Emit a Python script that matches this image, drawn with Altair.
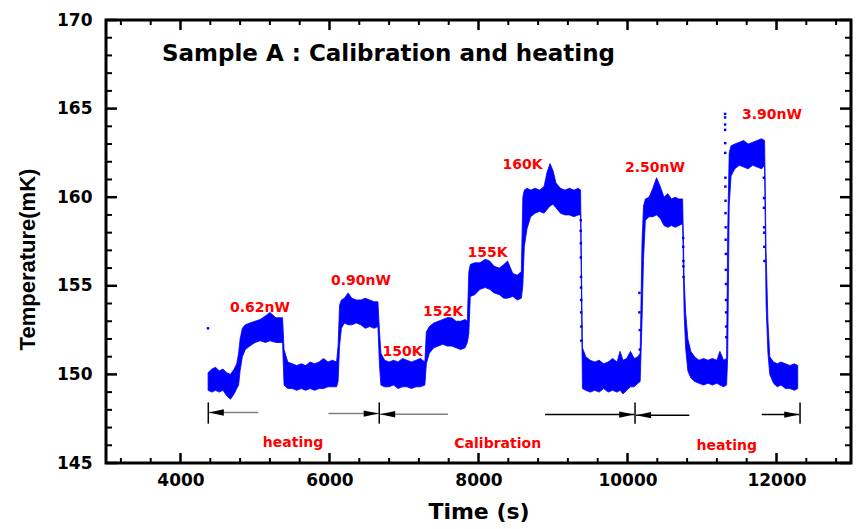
import altair as alt
import pandas as pd

# ---- measured temperature band (time in s, lower / upper edge of the noisy trace in mK)
band_time = [
    4370, 4420, 4470, 4520, 4570, 4620, 4670, 4720, 4755, 4780, 4800, 4830, 4870, 4930,
    5000, 5070, 5140, 5200, 5280, 5370, 5390, 5440, 5500, 5560, 5620, 5680, 5740, 5800,
    5860, 5920, 5980, 6040, 6095, 6115, 6135, 6160, 6200, 6250, 6300, 6360, 6420, 6480,
    6540, 6600, 6650, 6670, 6690, 6740, 6800, 6860, 6920, 6980, 7040, 7100, 7160, 7220,
    7280, 7300, 7340, 7400, 7460, 7520, 7580, 7640, 7700, 7760, 7820, 7850, 7870, 7890,
    7950, 8020, 8090, 8150, 8210, 8280, 8340, 8390, 8460, 8520, 8575, 8595, 8615, 8650,
    8700, 8760, 8820, 8880, 8920, 8960, 9000, 9040, 9100, 9160, 9220, 9280, 9340, 9370,
    9395, 9440, 9500, 9560, 9620, 9680, 9740, 9800, 9860, 9900, 9940, 9990, 10040, 10090,
    10140, 10170, 10195, 10215, 10240, 10290, 10340, 10390, 10440, 10490, 10540, 10590,
    10640, 10690, 10740, 10760, 10780, 10810, 10850, 10900, 10960, 11020, 11080, 11140,
    11200, 11240, 11290, 11330, 11345, 11365, 11390, 11440, 11500, 11560, 11620, 11680,
    11740, 11800, 11840, 11860, 11885, 11910, 11960, 12010, 12060, 12120, 12180, 12240,
    12285,
]
band_low = [
    149.1, 149.0, 149.1, 149.0, 149.1, 148.8, 148.6, 148.9, 149.2, 149.4, 150.2, 151.0, 151.4, 151.6,
    151.8, 151.9, 151.8, 151.9, 151.8, 151.8, 149.4, 149.2, 149.2, 149.1, 149.2, 149.1, 149.2, 149.1,
    149.2, 149.2, 149.3, 149.3, 149.3, 149.6, 151.6, 152.6, 152.9, 152.8, 152.8, 152.9, 152.8, 152.6,
    152.7, 152.6, 152.7, 150.6, 149.4, 149.3, 149.3, 149.4, 149.2, 149.3, 149.3, 149.2, 149.3, 149.3,
    149.4, 150.6, 151.2, 151.5, 151.6, 151.7, 151.6, 151.6, 151.5, 151.4, 151.5, 151.8, 152.3, 154.4,
    154.5, 154.8, 154.9, 154.8, 154.6, 154.5, 154.3, 154.3, 154.4, 154.2, 154.3, 155.0, 157.2, 158.2,
    158.9, 159.1, 159.2, 159.1, 159.3, 159.5, 159.6, 159.4, 159.1, 159.0, 159.0, 158.9, 159.0, 159.0,
    149.2, 149.1, 149.0, 149.1, 149.0, 149.2, 149.0, 149.1, 149.0, 149.1, 148.9, 149.1, 149.3, 149.3,
    149.5, 149.6, 153.0, 156.5, 158.7, 158.9, 158.9, 159.0, 158.8, 158.4, 158.3, 158.4,
    158.3, 158.4, 158.5, 153.5, 151.5, 150.2, 149.8, 149.6, 149.5, 149.4, 149.5, 149.4,
    149.5, 149.4, 149.3, 149.4, 151.0, 159.5, 161.2, 161.6, 161.8, 161.7, 161.6, 161.8,
    161.7, 161.6, 161.8, 154.0, 151.2, 150.0, 149.5, 149.3, 149.4, 149.2, 149.2, 149.1,
    149.2,
]
band_high = [
    150.1, 150.3, 150.4, 150.2, 150.3, 150.1, 150.0, 150.3, 150.6, 151.2, 152.0, 152.6, 152.8, 152.9,
    153.0, 153.1, 153.3, 153.5, 153.2, 153.2, 151.4, 150.7, 150.6, 150.5, 150.6, 150.5, 150.7, 150.6,
    150.7, 150.9, 150.7, 150.8, 150.7, 151.6, 153.9, 154.2, 154.3, 154.6, 154.3, 154.2, 154.2, 154.3,
    154.2, 154.1, 154.1, 152.5, 151.2, 150.8, 150.7, 150.8, 150.7, 150.9, 150.8, 150.7, 150.8, 150.9,
    150.7, 152.4, 152.7, 152.9, 153.0, 153.1, 153.2, 153.2, 153.0, 153.0, 153.1, 153.0, 155.8, 156.2,
    156.3, 156.3, 156.5, 156.4, 156.1, 156.0, 156.2, 156.4, 155.7, 155.6, 155.8, 160.0, 160.4, 160.5,
    160.4, 160.5, 160.4, 160.6, 161.4, 161.9, 161.5, 160.8, 160.5, 160.4, 160.5, 160.4, 160.5, 160.4,
    151.5, 151.0, 150.8, 150.7, 150.8, 150.6, 150.7, 150.9, 150.7, 151.3, 150.8, 150.9, 151.3, 150.9,
    151.0, 151.2, 157.5, 159.5, 159.9, 160.0, 160.5, 161.1, 160.6, 160.0, 160.2, 159.9,
    160.0, 159.9, 159.9, 155.5, 153.5, 152.0, 151.3, 151.0, 150.8, 150.9, 150.8, 150.9,
    150.8, 151.3, 150.8, 150.9, 158.0, 162.5, 162.9, 163.0, 163.1, 163.2, 163.0, 163.1,
    163.2, 163.3, 163.2, 157.0, 153.0, 151.0, 150.7, 150.6, 150.7, 150.6, 150.5, 150.6,
    150.5,
]

# ---- isolated samples recorded during the fast switching steps
dot_time = [
    4369,
    9372, 9372, 9374, 9374, 9376, 9376, 9378, 9378, 9380, 9380,
    10160, 10160, 10165, 10165,
    10748, 10748, 10750, 10750, 10752,
    11310, 11310, 11310, 11310, 11312, 11312, 11314, 11314, 11316, 11316,
    11318, 11318, 11320, 11320, 11322, 11322, 11324, 11324, 11326,
    11830, 11832, 11832, 11834, 11834, 11836, 11838,
]
dot_temp = [
    152.6,
    158.7, 158.1, 157.4, 156.6, 155.5, 154.9, 154.2, 153.5, 152.7, 151.9,
    154.6, 153.5, 152.5, 151.4,
    157.7, 157.2, 156.4, 156.1, 155.5,
    164.7, 164.5, 164.1, 163.8, 163.05, 162.5, 161.1, 160.6, 159.8, 159.1,
    158.3, 157.6, 156.8, 155.9, 155.1, 154.2, 153.5, 152.7, 152.1,
    161.1, 159.95, 159.4, 158.3, 158.0, 157.2, 156.4,
]

# ---- step annotations (red)
step_text = ["0.62nW", "0.90nW", "150K", "152K", "155K", "160K", "2.50nW", "3.90nW",
             "heating", "Calibration", "heating"]
step_time = [5067, 6423, 6980, 7524, 8121, 8591, 10369, 11940, 5510, 8258, 11332]
step_temp = [153.74, 155.28, 151.27, 153.53, 156.84, 161.81, 161.64, 164.64,
             146.15, 146.10, 145.94]

# ---- interval arrows below the trace
arrow_tail = [5044, 5984, 7589, 8893, 10830, 11802]
arrow_tip = [4380, 6660, 6680, 10090, 10115, 12305]
arrow_temp = [147.85, 147.79, 147.75, 147.73, 147.70, 147.73]
arrow_color = ["#808080", "#808080", "#808080", "black", "black", "black"]
bar_time = [4373, 6668, 10101, 12316]
bar_low, bar_high = 147.22, 148.42

# ---- title placed inside the frame
title_text = ["Sample A : Calibration and heating"]
title_time = [6792]
title_temp = [168.08]

# ---- axis ticks
x_major = [4000, 6000, 8000, 10000, 12000]
x_minor = [v for v in range(3200, 13000, 400) if v not in x_major]
y_major = [145, 150, 155, 160, 165, 170]
y_minor = [v for v in range(146, 170) if v not in y_major]

W, H = 745, 443
BLUE = "#0000ff"

xs = alt.Scale(domain=[3000, 13000], nice=False, zero=False)
ys = alt.Scale(domain=[145, 170], nice=False, zero=False)

x_axis = alt.Axis(values=x_major, format="d", ticks=False, domain=False, grid=False,
                  labelFont="DejaVu Sans", labelFontWeight="bold", labelFontSize=17,
                  labelColor="black", labelPadding=9,
                  titleFont="DejaVu Sans", titleFontWeight="bold", titleFontSize=22,
                  titleColor="black", titlePadding=13)
y_axis = alt.Axis(values=y_major, format="d", ticks=False, domain=False, grid=False,
                  labelFont="DejaVu Sans", labelFontWeight="bold", labelFontSize=17,
                  labelColor="black", labelPadding=14,
                  titleFont="Liberation Sans", titleFontWeight="bold",
                  titleFontSize=22, titleColor="black",
                  titleX=-79, titleY=239, titleBaseline="middle")


def X(field):
    return alt.X(field, type="quantitative", scale=xs, title="Time (s)", axis=x_axis)


def Y(field):
    return alt.Y(field, type="quantitative", scale=ys, title="Temperature(mK)", axis=y_axis)


band_df = pd.DataFrame({"time": band_time, "low": band_low, "high": band_high})
dot_df = pd.DataFrame({"time": dot_time, "temp": dot_temp})
step_df = pd.DataFrame({"label": step_text, "time": step_time, "temp": step_temp})
arrow_df = pd.DataFrame({
    "tail": arrow_tail, "tip": arrow_tip, "temp": arrow_temp, "color": arrow_color,
    "dir": ["left" if tp < tl else "right" for tl, tp in zip(arrow_tail, arrow_tip)],
})
bar_df = pd.DataFrame({"time": bar_time, "low": bar_low, "high": bar_high})
title_df = pd.DataFrame({"label": title_text, "time": title_time, "temp": title_temp})
xmaj_df = pd.DataFrame({"v": x_major})
xmin_df = pd.DataFrame({"v": x_minor})
ymaj_df = pd.DataFrame({"v": y_major})
ymin_df = pd.DataFrame({"v": y_minor})


# inward ticks on all four sides
def xticks(df, length, width):
    bottom = alt.Chart(df).mark_rule(color="black", strokeWidth=width).encode(
        x=X("v"), y=alt.value(H), y2=alt.value(H - length))
    top = alt.Chart(df).mark_rule(color="black", strokeWidth=width).encode(
        x=X("v"), y=alt.value(0), y2=alt.value(length))
    return bottom + top


def yticks(df, length, width):
    left = alt.Chart(df).mark_rule(color="black", strokeWidth=width).encode(
        y=Y("v"), x=alt.value(0), x2=alt.value(length))
    right = alt.Chart(df).mark_rule(color="black", strokeWidth=width).encode(
        y=Y("v"), x=alt.value(W), x2=alt.value(W - length))
    return left + right


ticks = (xticks(xmaj_df, 10, 2.5) + xticks(xmin_df, 5, 2) +
         yticks(ymaj_df, 11, 2.5) + yticks(ymin_df, 6, 2))

band = alt.Chart(band_df).mark_area(color=BLUE, stroke=BLUE, strokeWidth=0.8).encode(
    x=X("time"), y=Y("low"), y2="high:Q")

dots = alt.Chart(dot_df).mark_square(color=BLUE, size=6, opacity=1).encode(
    x=X("time"), y=Y("temp"))

arrow_lines = alt.Chart(arrow_df).mark_rule(strokeWidth=1.5).encode(
    x=X("tail"), x2="tip:Q", y=Y("temp"),
    color=alt.Color("color:N", scale=None))

head_left = "M0,0L1,-0.21L1,0.21Z"
head_right = "M0,0L-1,-0.21L-1,0.21Z"
arrow_heads = alt.Chart(arrow_df).mark_point(filled=True, size=900, color="black",
                                             opacity=1, strokeWidth=0).encode(
    x=X("tip"), y=Y("temp"),
    shape=alt.Shape("dir:N", scale=alt.Scale(domain=["left", "right"],
                                             range=[head_left, head_right]), legend=None))

bars = alt.Chart(bar_df).mark_rule(color="black", strokeWidth=1.5).encode(
    x=X("time"), y=Y("low"), y2="high:Q")

labels = alt.Chart(step_df).mark_text(font="DejaVu Sans", fontWeight="bold", fontSize=14,
                                      color="red", align="center", baseline="middle").encode(
    x=X("time"), y=Y("temp"), text="label:N")

title = alt.Chart(title_df).mark_text(font="DejaVu Sans", fontWeight="bold", fontSize=23,
                                      color="black", align="center", baseline="middle").encode(
    x=X("time"), y=Y("temp"), text="label:N")

chart = alt.layer(ticks, band, dots, arrow_lines, arrow_heads, bars, labels, title).properties(
    width=W, height=H,
    autosize=alt.AutoSizeParams(type="none"),
    padding={"left": 106, "top": 20, "right": 6, "bottom": 66},
    background="white",
).configure_view(stroke="black", strokeWidth=3)

chart.save("out.html", embed_options={"renderer": "svg", "actions": False})
